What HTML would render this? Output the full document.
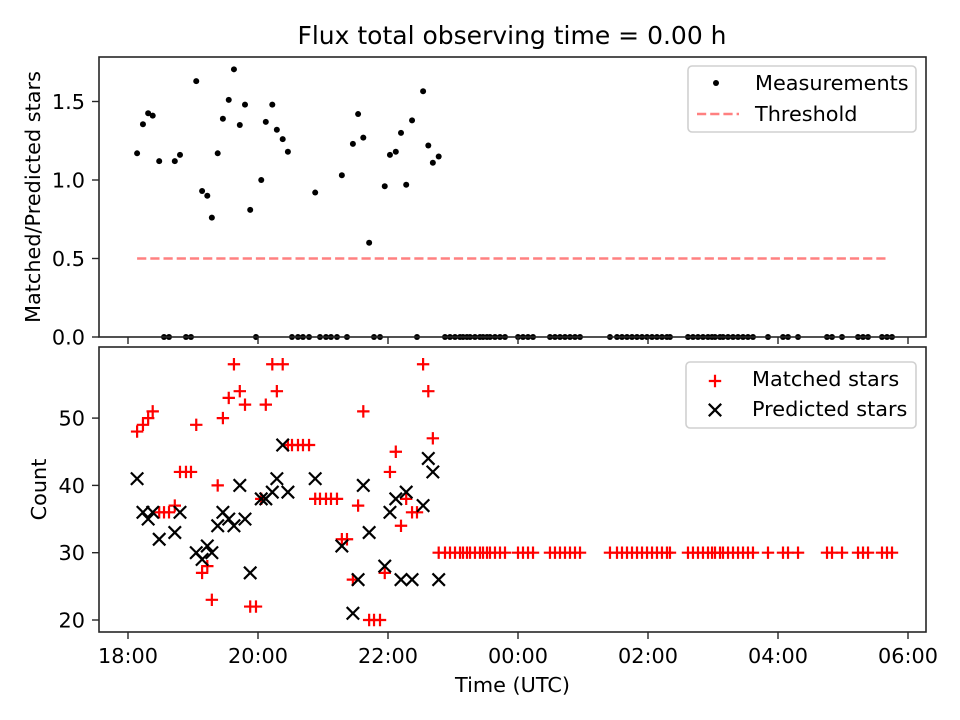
<!DOCTYPE html>
<html><head><meta charset="utf-8">
<style>
html,body{margin:0;padding:0;background:#fff;}
svg{display:block;font-family:"DejaVu Sans","Liberation Sans",sans-serif;}
</style></head>
<body>
<svg id="chart" width="960" height="720" viewBox="0 0 960 720" xmlns="http://www.w3.org/2000/svg">
<rect x="0" y="0" width="960" height="720" fill="#fff"/>
<text x="512" y="44" text-anchor="middle" font-size="25">Flux total observing time = 0.00 h</text>
<g id="topPanel"></g>
<g id="botPanel"></g>
</svg>
<script>
// hours since 18:00 UTC
const validTimes = [0.14,0.23,0.31,0.38,0.48,0.72,0.80,1.05,1.14,1.22,1.29,1.38,1.46,1.55,1.63,1.72,1.80,1.88,2.05,2.12,2.22,2.29,2.38,2.46,2.88,3.29,3.46,3.54,3.62,3.71,3.95,4.03,4.12,4.20,4.28,4.37,4.54,4.62,4.69,4.78];
const measurements = [1.17,1.355,1.425,1.41,1.12,1.12,1.16,1.63,0.93,0.90,0.76,1.17,1.39,1.51,1.705,1.35,1.48,0.81,1.0,1.37,1.48,1.32,1.26,1.18,0.92,1.03,1.23,1.42,1.27,0.60,0.96,1.16,1.18,1.30,0.97,1.38,1.565,1.22,1.11,1.15];
const matchedValid = [48,49,50,51,36,37,42,49,27,28,23,40,50,53,58,54,52,22,38,52,58,54,58,46,38,32,26,37,51,20,27,42,45,34,38,36,58,54,47,30];
const predictedValid = [41,36,35,36,32,33,36,30,29,31,30,34,36,35,34,40,35,27,38,38,39,41,46,39,41,31,21,26,40,33,28,36,38,26,39,26,37,44,42,26];
const zeroTimes = [0.554,0.631,0.892,0.969,1.969,2.523,2.615,2.692,2.785,2.954,3.046,3.123,3.215,3.369,3.785,3.877,4.446,4.877,4.954,5.031,5.108,5.154,5.215,5.262,5.338,5.415,5.462,5.523,5.569,5.646,5.723,5.8,6.0,6.077,6.154,6.231,6.492,6.569,6.646,6.723,6.8,6.877,6.954,7.415,7.523,7.6,7.677,7.754,7.831,7.908,7.985,8.062,8.138,8.215,8.292,8.338,8.615,8.692,8.769,8.846,8.923,8.985,9.031,9.108,9.154,9.231,9.308,9.385,9.462,9.538,9.615,9.846,10.077,10.154,10.308,10.754,10.831,10.985,11.231,11.308,11.385,11.6,11.677,11.754];
const zeroMatched = [36,36,42,42,22,46,46,46,46,38,38,38,38,32,20,20,36,30,30,30,30,30,30,30,30,30,30,30,30,30,30,30,30,30,30,30,30,30,30,30,30,30,30,30,30,30,30,30,30,30,30,30,30,30,30,30,30,30,30,30,30,30,30,30,30,30,30,30,30,30,30,30,30,30,30,30,30,30,30,30,30,30,30,30];
const thresholdValue = 0.5;
const thresholdRange = [0.14, 11.71];
const xTickHours = [0,2,4,6,8,10,12];
const xTickLabels = ["18:00","20:00","22:00","00:00","02:00","04:00","06:00"];
const topTicks = [0.0,0.5,1.0,1.5];
const topTickLabels = ["0.0","0.5","1.0","1.5"];
const botTicks = [20,30,40,50];
const botTickLabels = ["20","30","40","50"];

const NS="http://www.w3.org/2000/svg";
function mk(parent,tag,attrs){const e=document.createElementNS(NS,tag);for(const k in attrs)e.setAttribute(k,attrs[k]);parent.appendChild(e);return e;}
const L=99,R=926;
const FS=20.8;
const xs=h=>128+h*65;
const TT=57,TB=337; const yt=v=>337-v*157;
const BT=347,BB=632; const yb=v=>620-(v-20)*6.73;
const AX='#262626';

const topG=document.getElementById('topPanel'), botG=document.getElementById('botPanel');

// top axes
mk(topG,'rect',{x:L,y:TT,width:R-L,height:TB-TT,fill:'#fff'});
const thr=mk(topG,'line',{x1:xs(thresholdRange[0]),x2:xs(thresholdRange[1]),y1:yt(thresholdValue),y2:yt(thresholdValue),stroke:'#ff8080','stroke-width':2.5,'stroke-dasharray':'9.2,4'});


validTimes.forEach((t,i)=>{
  const c=mk(topG,'circle',{cx:xs(t),cy:yt(measurements[i]),r:3,fill:'#000'});
  
  
});
zeroTimes.forEach(t=>{
  const c=mk(topG,'circle',{cx:xs(t),cy:yt(0),r:3,fill:'#000'});
  
  
});
topTicks.forEach((v,i)=>{
  mk(topG,'line',{x1:L-7,x2:L,y1:yt(v),y2:yt(v),stroke:AX,'stroke-width':1.4});
  const tx=mk(topG,'text',{x:L-14,y:yt(v)+7.5,'text-anchor':'end','font-size':FS});
  tx.textContent=topTickLabels[i];
  
  
});
xTickHours.forEach(h=>{mk(topG,'line',{x1:xs(h),x2:xs(h),y1:TB,y2:TB+7,stroke:AX,'stroke-width':1.4});});
mk(topG,'rect',{x:L,y:TT,width:R-L,height:TB-TT,fill:'none',stroke:AX,'stroke-width':1.6});
const ytl=mk(topG,'text',{x:0,y:0,'text-anchor':'middle','font-size':FS,transform:`translate(40,${(TT+TB)/2}) rotate(-90)`});
ytl.textContent='Matched/Predicted stars';


// top legend
const lg1=mk(topG,'g',{});


mk(lg1,'rect',{x:688,y:66,width:228,height:66,rx:4,fill:'#fff',stroke:'#d0d0d0','stroke-width':1.6});
mk(lg1,'circle',{cx:716,cy:83,r:3,fill:'#000'});
let t1=mk(lg1,'text',{x:755,y:90,'font-size':FS});t1.textContent='Measurements';


mk(lg1,'line',{x1:697,x2:739,y1:114,y2:114,stroke:'#ff8080','stroke-width':2.5,'stroke-dasharray':'9.2,4'});
let t2=mk(lg1,'text',{x:755,y:121,'font-size':FS});t2.textContent='Threshold';



// bottom axes
mk(botG,'rect',{x:L,y:BT,width:R-L,height:BB-BT,fill:'#fff'});
const MH=6.2;
function plus(g,x,y){return mk(g,'path',{d:`M${x-MH},${y}H${x+MH}M${x},${y-MH}V${y+MH}`,stroke:'#f00','stroke-width':2.2,fill:'none'});}
function cross(g,x,y){return mk(g,'path',{d:`M${x-MH},${y-MH}L${x+MH},${y+MH}M${x-MH},${y+MH}L${x+MH},${y-MH}`,stroke:'#000','stroke-width':2.2,fill:'none'});}
validTimes.forEach((t,i)=>{
  const p=plus(botG,xs(t),yb(matchedValid[i]));
  
  
});
zeroTimes.forEach((t,i)=>{
  const p=plus(botG,xs(t),yb(zeroMatched[i]));
  
  
});
validTimes.forEach((t,i)=>{
  const p=cross(botG,xs(t),yb(predictedValid[i]));
  
  
});
botTicks.forEach((v,i)=>{
  mk(botG,'line',{x1:L-7,x2:L,y1:yb(v),y2:yb(v),stroke:AX,'stroke-width':1.4});
  const tx=mk(botG,'text',{x:L-14,y:yb(v)+7.5,'text-anchor':'end','font-size':FS});
  tx.textContent=botTickLabels[i];
  
  
});
xTickHours.forEach((h,i)=>{
  mk(botG,'line',{x1:xs(h),x2:xs(h),y1:BB,y2:BB+7,stroke:AX,'stroke-width':1.4});
  const tx=mk(botG,'text',{x:xs(h),y:663,'text-anchor':'middle','font-size':FS});
  tx.textContent=xTickLabels[i];
  
  
});
mk(botG,'rect',{x:L,y:BT,width:R-L,height:BB-BT,fill:'none',stroke:AX,'stroke-width':1.6});
const ybl=mk(botG,'text',{x:0,y:0,'text-anchor':'middle','font-size':FS,transform:`translate(46,${(BT+BB)/2}) rotate(-90)`});
ybl.textContent='Count';


const xl=mk(botG,'text',{x:(L+R)/2,y:692,'text-anchor':'middle','font-size':FS});
xl.textContent='Time (UTC)';


// bottom legend
const lg2=mk(botG,'g',{});


mk(lg2,'rect',{x:686,y:362,width:230,height:66,rx:4,fill:'#fff',stroke:'#d0d0d0','stroke-width':1.6});
plus(lg2,715,381);
let t3=mk(lg2,'text',{x:752,y:386,'font-size':FS});t3.textContent='Matched stars';


cross(lg2,715,410);
let t4=mk(lg2,'text',{x:752,y:416,'font-size':FS});t4.textContent='Predicted stars';


</script>
</body></html>
